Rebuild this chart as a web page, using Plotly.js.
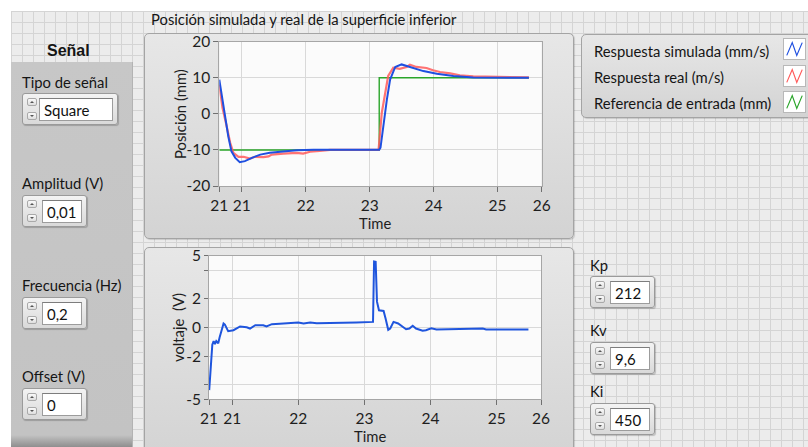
<!DOCTYPE html>
<html>
<head>
<meta charset="utf-8">
<script src="https://cdn.plot.ly/plotly-3.0.1.min.js"></script>
<style>
  html, body { margin: 0; padding: 0; background: #ffffff; }
  body { width: 808px; height: 447px; position: relative; overflow: hidden;
         font-family: Lato, "Open Sans", sans-serif; color: #111; }
  .grid { position: absolute; left: 11px; top: 11px; right: 0; bottom: 0;
          background-color: #ececec;
          background-image:
            linear-gradient(to right, #d4d4d4 1px, transparent 1px),
            linear-gradient(to bottom, #d4d4d4 1px, transparent 1px);
          background-size: 11px 11px; }
  .panel { position: absolute; left: 11px; top: 62px; width: 122px; height: 385px;
           background: linear-gradient(to bottom, #c7c7c7 0, #c3c3c3 calc(100% - 12px), #8e8e8e 100%);
           border-right: 1px solid #b3b3b3; box-sizing: border-box; }
  .frame { position: absolute; border: 1px solid #a4a4a4; border-radius: 5px;
           background: linear-gradient(to bottom, #e7e7e7, #d3d3d3);
           box-shadow: 1px 1px 1px rgba(0,0,0,0.15); box-sizing: border-box; }
  .lbl { position: absolute; font-size: 14.8px; line-height: 16px; white-space: nowrap; color: #151515; }
  .ctl { position: absolute; height: 32px; border: 1px solid #9a9a9a; border-radius: 3px;
         background: linear-gradient(to bottom, #f3f3f3, #d9d9d9); box-sizing: border-box;
         box-shadow: 1px 1px 1px rgba(0,0,0,0.2); }
  .ctl .up, .ctl .dn { position: absolute; left: 4px; width: 10px; height: 8px;
         border: 1px solid #a9a9a9; border-radius: 2px; box-sizing: border-box;
         background: linear-gradient(to bottom, #fafafa, #dedede); }
  .ctl .up { top: 4px; } .ctl .dn { bottom: 4px; }
  .ctl .up::after, .ctl .dn::after { content: ""; position: absolute; left: 2px; width: 0; height: 0;
         border-left: 2px solid transparent; border-right: 2px solid transparent; }
  .ctl .up::after { top: 2px; border-bottom: 2px solid #555; }
  .ctl .dn::after { top: 2px; border-top: 2px solid #555; }
  .ctl .fld { position: absolute; top: 4px; bottom: 3px; right: 4px; background: #fff;
         border: 1px solid #9c9c9c; border-top-color: #7d7d7d; box-sizing: border-box;
         font-size: 15px; line-height: 22px; padding-left: 4px; color: #111; }
  #legend { position: absolute; left: 581px; top: 34px; width: 240px; height: 84px; }
  .icon { position: absolute; left: 201px; width: 23px; height: 22px; background: #fff;
          border: 1px solid #b8b8b8; box-sizing: border-box; }
  #plot { position: absolute; left: 0; top: 0; width: 808px; height: 447px; }
</style>
</head>
<body>
<div class="grid"></div>

<!-- signal generator controls -->
<div class="lbl" style="left:47px;top:42px;font-family:'Liberation Sans',Arial,sans-serif;font-weight:bold;font-size:16px;line-height:18px;">Señal</div>
<div class="panel"></div>
<div class="lbl" style="left:22px;top:74px;">Tipo de señal</div>
<div class="ctl" style="left:22px;top:93px;width:96px;"><span class="up"></span><span class="dn"></span><div class="fld" style="left:16px;">Square</div></div>
<div class="lbl" style="left:22px;top:175px;">Amplitud (V)</div>
<div class="ctl" style="left:22px;top:195px;width:65px;"><span class="up"></span><span class="dn"></span><div class="fld" style="left:19px;">0,01</div></div>
<div class="lbl" style="left:22px;top:277px;">Frecuencia (Hz)</div>
<div class="ctl" style="left:22px;top:297px;width:65px;"><span class="up"></span><span class="dn"></span><div class="fld" style="left:19px;">0,2</div></div>
<div class="lbl" style="left:22px;top:368px;">Offset (V)</div>
<div class="ctl" style="left:22px;top:388px;width:65px;"><span class="up"></span><span class="dn"></span><div class="fld" style="left:19px;">0</div></div>

<!-- graph frames -->
<div class="lbl" style="left:151px;top:11px;">Posición simulada y real de la superficie inferior</div>
<div class="frame" style="left:144px;top:33px;width:430px;height:206px;"></div>
<div class="frame" style="left:144px;top:247px;width:430px;height:215px;"></div>

<!-- legend of the position graph -->
<div id="legend" class="frame">
  <div class="lbl" style="left:12px;top:8px;">Respuesta simulada (mm/s)</div>
  <div class="lbl" style="left:12px;top:34px;">Respuesta real (m/s)</div>
  <div class="lbl" style="left:12px;top:60px;">Referencia de entrada (mm)</div>
  <svg class="icon" style="top:3px;" viewBox="0 0 23 22"><polyline points="3,18 9,4 14,18 20,4" fill="none" stroke="#1f4fe0" stroke-width="1.3"/></svg>
  <svg class="icon" style="top:30px;" viewBox="0 0 23 22"><polyline points="3,18 9,4 14,18 20,4" fill="none" stroke="#ff5a5a" stroke-width="1.3"/></svg>
  <svg class="icon" style="top:56px;" viewBox="0 0 23 22"><polyline points="3,18 9,4 14,18 20,4" fill="none" stroke="#2aa52a" stroke-width="1.3"/></svg>
</div>

<!-- controller gains -->
<div class="lbl" style="left:590px;top:257px;">Kp</div>
<div class="ctl" style="left:590px;top:276px;width:65px;"><span class="up"></span><span class="dn"></span><div class="fld" style="left:19px;">212</div></div>
<div class="lbl" style="left:590px;top:322px;">Kv</div>
<div class="ctl" style="left:590px;top:342px;width:65px;"><span class="up"></span><span class="dn"></span><div class="fld" style="left:19px;">9,6</div></div>
<div class="lbl" style="left:590px;top:383px;">Ki</div>
<div class="ctl" style="left:590px;top:403px;width:65px;"><span class="up"></span><span class="dn"></span><div class="fld" style="left:19px;">450</div></div>

<div id="plot"></div>

<script>
// Position graph: simulated response (mm/s)
const simT = [20.65, 20.69, 20.74, 20.79, 20.84, 20.90, 20.97, 21.05, 21.16, 21.29, 21.44, 21.65, 21.86, 22.12, 22.54, 23.15, 23.17, 23.21, 23.27, 23.32, 23.40, 23.50, 23.63, 23.84, 24.05, 24.31, 24.62, 25.00, 25.49];
const simY = [9.5, 4.9, -0.6, -6.2, -10.4, -12.2, -13.4, -13.1, -12.2, -11.3, -10.8, -10.4, -10.1, -9.95, -9.95, -9.95, -9.4, -3.4, 4.0, 9.5, 13.0, 13.7, 13.0, 11.85, 11.1, 10.5, 10.1, 10.0, 10.0];

// Position graph: measured response (m/s)
const realT = [20.65, 20.70, 20.76, 20.82, 20.87, 20.95, 21.03, 21.08, 21.13, 21.21, 21.34, 21.42, 21.47, 21.65, 21.86, 21.96, 22.07, 22.22, 22.38, 22.70, 23.14, 23.19, 23.24, 23.29, 23.37, 23.47, 23.58, 23.63, 23.73, 23.89, 23.99, 24.10, 24.26, 24.41, 24.62, 25.14, 25.24, 25.49];
const realY = [8.1, 1.7, -3.0, -8.0, -10.8, -11.9, -11.9, -12.1, -12.4, -11.9, -12.0, -11.8, -11.3, -11.0, -10.8, -11.0, -10.5, -10.3, -10.0, -10.0, -10.0, 0.3, 5.8, 10.5, 12.8, 12.5, 13.0, 13.6, 13.0, 12.7, 12.1, 11.6, 11.2, 10.7, 10.4, 10.3, 10.2, 10.1];

// Position graph: input reference (mm)
const refT = [20.65, 23.15, 23.15, 25.49];
const refY = [-10, -10, 10, 10];

// Voltage graph
const voltT = [20.653, 20.68, 20.70, 20.72, 20.74, 20.76, 20.79, 20.81, 20.87, 20.89, 20.94, 21.02, 21.12, 21.22, 21.27, 21.35, 21.47, 21.52, 21.60, 21.72, 21.85, 22.00, 22.08, 22.18, 22.28, 22.48, 22.53, 22.88, 23.13, 23.146, 23.17, 23.19, 23.22, 23.26, 23.29, 23.32, 23.36, 23.39, 23.44, 23.51, 23.58, 23.63, 23.68, 23.73, 23.78, 23.88, 23.93, 24.01, 24.09, 24.29, 24.39, 24.64, 24.79, 24.84, 25.48];
const voltV = [-4.36, -2.39, -1.2, -0.95, -1.15, -0.95, -1.1, -0.7, 0.28, 0.2, -0.26, -0.19, 0.07, 0.02, -0.07, 0.16, 0.16, 0.07, 0.23, 0.26, 0.32, 0.35, 0.28, 0.35, 0.30, 0.30, 0.35, 0.35, 0.39, 4.6, 4.57, 1.8, 1.2, 1.15, 1.15, 0.63, -0.16, -0.07, 0.39, 0.28, 0.05, -0.12, -0.07, 0.12, -0.07, -0.23, -0.19, -0.05, -0.14, -0.12, -0.14, -0.07, -0.07, -0.14, -0.14];

// Axis ticks (the scale shows its rounded end values)
const posTickVals = [20.65, 21, 22, 23, 24, 25, 25.69];
const voltTimeTickVals = [20.65, 21, 22, 23, 24, 25, 25.67];
const timeTickText = ['21', '21', '22', '23', '24', '25', '26'];
const posYTicks = [-20, -10, 0, 10, 20];
const posYText = ['-20', '-10', '0', '10', '20'];
const voltYTicks = [-5, -4, -2, 0, 2, 4, 5];
const voltYText = ['-5', '', '-2', '0', '2', '', '5'];

const W = 808, H = 447;
const px = v => v / W;
const py = v => 1 - v / H;

const tickFont = { family: 'Lato, "Open Sans", sans-serif', size: 15.5, color: '#1e1e1e' };
const baseAxis = {
  showline: true, mirror: true, linecolor: '#a6a6a6', linewidth: 1,
  showgrid: true, gridcolor: '#d9d9d9', gridwidth: 1,
  zeroline: false, ticks: 'outside', ticklen: 5, tickcolor: '#707070',
  tickfont: tickFont, fixedrange: true, automargin: false
};

const traces = [
  { x: refT, y: refY, xaxis: 'x', yaxis: 'y', mode: 'lines', line: { color: '#2aa52a', width: 1.4 } },
  { x: realT, y: realY, xaxis: 'x', yaxis: 'y', mode: 'lines', opacity: 0.85, line: { color: '#ff5a5a', width: 2.2 } },
  { x: simT, y: simY, xaxis: 'x', yaxis: 'y', mode: 'lines', line: { color: '#1f4fe0', width: 2 } },
  { x: voltT, y: voltV, xaxis: 'x2', yaxis: 'y2', mode: 'lines', line: { color: '#1f55dd', width: 2 } }
];

const annFont = { family: 'Lato, "Open Sans", sans-serif', size: 14.8, color: '#1e1e1e' };
const layout = {
  width: W, height: H,
  margin: { l: 0, r: 0, t: 0, b: 0 },
  paper_bgcolor: 'rgba(0,0,0,0)',
  plot_bgcolor: '#fbfbfb',
  showlegend: false,
  xaxis: Object.assign({}, baseAxis, {
    domain: [px(219.3), px(541.7)], range: [20.65, 25.69],
    tickmode: 'array', tickvals: posTickVals, ticktext: timeTickText, anchor: 'y'
  }),
  yaxis: Object.assign({}, baseAxis, {
    domain: [py(186), py(41.7)], range: [-20, 20],
    tickmode: 'array', tickvals: posYTicks, ticktext: posYText, anchor: 'x'
  }),
  xaxis2: Object.assign({}, baseAxis, {
    domain: [px(209), px(541)], range: [20.65, 25.67],
    tickmode: 'array', tickvals: voltTimeTickVals, ticktext: timeTickText, anchor: 'y2'
  }),
  yaxis2: Object.assign({}, baseAxis, {
    domain: [py(399.3), py(255.7)], range: [-5, 5],
    tickmode: 'array', tickvals: voltYTicks, ticktext: voltYText, anchor: 'x2', ticklen: 4
  }),
  annotations: [
    { text: 'Posición (mm)', xref: 'paper', yref: 'paper', x: px(180), y: py(114), textangle: -90, showarrow: false, font: annFont, xanchor: 'center', yanchor: 'middle' },
    { text: 'Time', xref: 'paper', yref: 'paper', x: px(375), y: py(223), showarrow: false, font: annFont, xanchor: 'center', yanchor: 'middle' },
    { text: 'voltaje  (V)', xref: 'paper', yref: 'paper', x: px(178), y: py(328), textangle: -90, showarrow: false, font: annFont, xanchor: 'center', yanchor: 'middle' },
    { text: 'Time', xref: 'paper', yref: 'paper', x: px(370), y: py(436), showarrow: false, font: annFont, xanchor: 'center', yanchor: 'middle' }
  ]
};

Plotly.newPlot('plot', traces, layout, { displayModeBar: false, staticPlot: true });
</script>
</body>
</html>
